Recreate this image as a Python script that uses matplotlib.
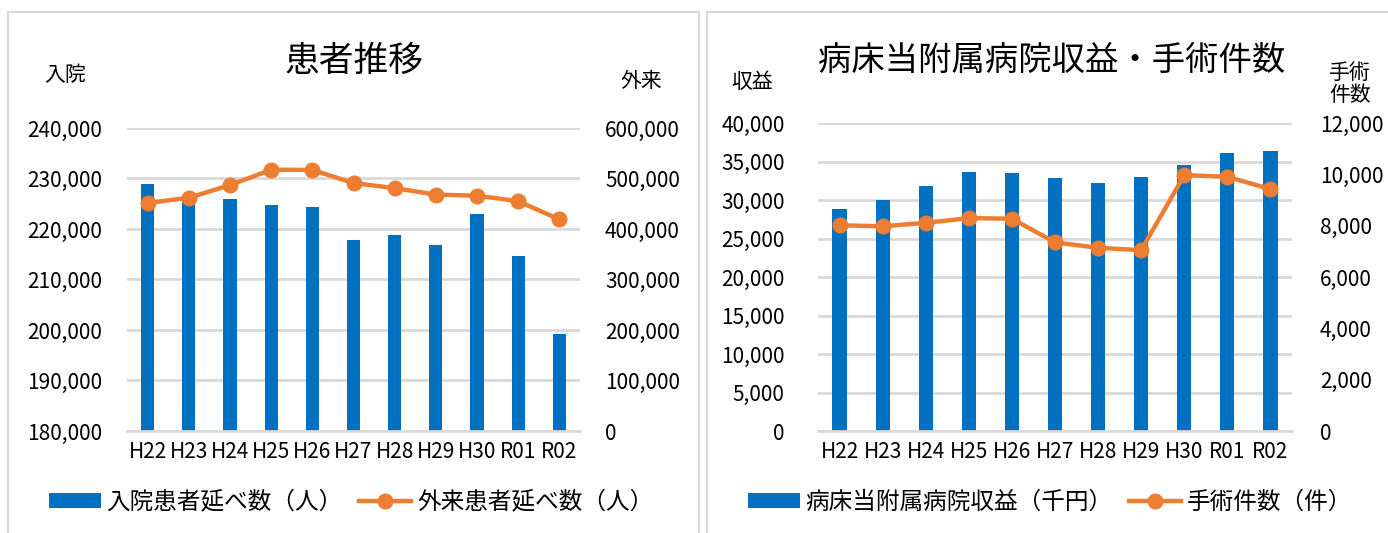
import matplotlib
matplotlib.use("Agg")
import matplotlib.pyplot as plt
from matplotlib.ticker import FuncFormatter
from matplotlib.patches import Rectangle

plt.rcParams['font.family'] = ['Noto Sans CJK JP', 'DejaVu Sans']

years = ["H22", "H23", "H24", "H25", "H26", "H27", "H28", "H29", "H30", "R01", "R02"]

# Left chart: patients
inpatients = [229000, 226400, 226000, 224700, 224400, 217900, 218800, 216800, 223000, 214700, 199300]
outpatients = [451600, 461700, 487000, 517300, 517000, 491000, 481000, 468000, 466000, 455000, 419000]

# Right chart: revenue and surgeries
revenue = [28800, 29970, 31830, 33700, 33510, 32850, 32230, 32940, 34570, 36040, 36400]
surgeries = [8014, 7975, 8110, 8294, 8270, 7352, 7137, 7045, 9968, 9904, 9426]

BLUE = "#0070C0"
ORANGE = "#ED7D31"
GRID = "#D9D9D9"

W, H = 1388, 533
fig = plt.figure(figsize=(W / 100, H / 100), dpi=100)

# panel borders
fig.patches.append(Rectangle((8 / W, -0.1), (699 - 8) / W, 1.1 - 12 / H, transform=fig.transFigure,
                             fill=False, edgecolor=GRID, lw=1.5))
fig.patches.append(Rectangle((707 / W, -0.1), (1400 - 707) / W, 1.1 - 12 / H, transform=fig.transFigure,
                             fill=False, edgecolor=GRID, lw=1.5))

comma = FuncFormatter(lambda v, p: f"{int(v):,}")
x = list(range(len(years)))


def style(ax, ax2, lpad, rpad):
    for a in (ax, ax2):
        for s in ("top", "left", "right", "bottom"):
            a.spines[s].set_visible(False)
        a.tick_params(length=0, labelsize=15)
    ax.spines["bottom"].set_visible(True)
    ax.spines["bottom"].set_color(GRID)
    ax.spines["bottom"].set_linewidth(2)
    ax.grid(axis="y", color=GRID, lw=2)
    ax.set_axisbelow(True)
    ax.tick_params(axis="y", pad=lpad)
    ax2.tick_params(axis="y", pad=rpad)
    ax.tick_params(axis="x", pad=7)
    ax.yaxis.set_major_formatter(comma)
    ax2.yaxis.set_major_formatter(comma)
    ax.set_xlim(-0.5, len(years) - 0.5)
    ax.set_xticks(x)
    ax.set_xticklabels(years)


# ---- Left chart ----
ax1 = fig.add_axes([127 / W, 1 - 431 / H, (580 - 127) / W, (431 - 128) / H])
b1 = ax1.bar(x, inpatients, width=0.32, color=BLUE, label="入院患者延べ数（人）")
ax1.set_ylim(180000, 240000)
ax1.set_yticks(range(180000, 240001, 10000))
ax1b = ax1.twinx()
l1, = ax1b.plot(x, outpatients, color=ORANGE, lw=3.2, marker="o", ms=10.5, label="外来患者延べ数（人）")
ax1b.set_ylim(0, 600000)
ax1b.set_yticks(range(0, 600001, 100000))
style(ax1, ax1b, 18, 18)

fig.text(354 / W, 1 - 61 / H, "患者推移", fontsize=25, ha="center", va="center")
fig.text(65 / W, 1 - 75 / H, "入院", fontsize=15, ha="center", va="center")
fig.text(641 / W, 1 - 81 / H, "外来", fontsize=15, ha="center", va="center")

fig.legend([b1, l1], [b1.get_label(), l1.get_label()], loc="center",
           bbox_to_anchor=(351 / W, 1 - 502 / H), ncol=2, frameon=False, fontsize=17,
           handlelength=2.2, handleheight=0.6, handletextpad=0.25, columnspacing=0.7)

# ---- Right chart ----
ax2 = fig.add_axes([818 / W, 1 - 431 / H, (1292 - 818) / W, (431 - 123) / H])
b2 = ax2.bar(x, revenue, width=0.33, color=BLUE, label="病床当附属病院収益（千円）")
ax2.set_ylim(0, 40000)
ax2.set_yticks(range(0, 40001, 5000))
ax2b = ax2.twinx()
l2, = ax2b.plot(x, surgeries, color=ORANGE, lw=3.2, marker="o", ms=10.5, label="手術件数（件）")
ax2b.set_ylim(0, 12000)
ax2b.set_yticks(range(0, 12001, 2000))
style(ax2, ax2b, 24, 20)

fig.text(1052 / W, 1 - 60 / H, "病床当附属病院収益・手術件数", fontsize=24, ha="center", va="center")
fig.text(752 / W, 1 - 82 / H, "収益", fontsize=15, ha="center", va="center")
fig.text(1350 / W, 1 - 84 / H, "手術\n件数", fontsize=15, ha="center", va="center", linespacing=1.05)

fig.legend([b2, l2], [b2.get_label(), l2.get_label()], loc="center",
           bbox_to_anchor=(1050 / W, 1 - 502 / H), ncol=2, frameon=False, fontsize=17,
           handlelength=2.2, handleheight=0.6, handletextpad=0.25, columnspacing=0.7)

fig.savefig("out.png", dpi=100)
